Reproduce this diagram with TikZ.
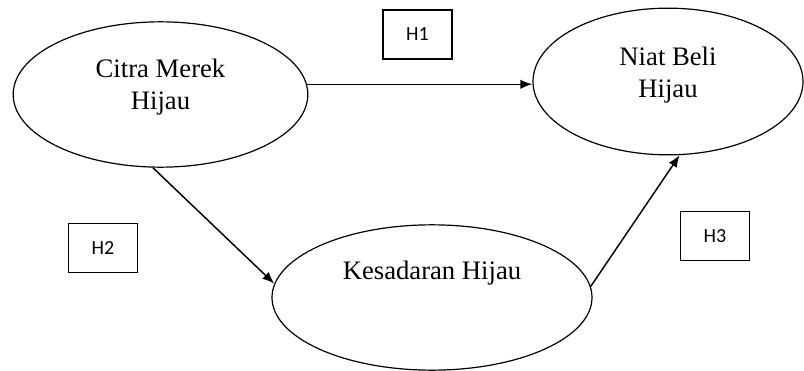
\documentclass[tikz,border=0pt]{standalone}
\usepackage{fontspec}
\newfontfamily\latfont{Liberation Serif}
\newfontfamily\hypfont{Carlito}
\usetikzlibrary{arrows.meta,shapes.geometric}

\begin{document}
\begin{tikzpicture}[->,>={Latex[length=9pt,width=7pt]},x=0.75pt,y=-0.75pt,line width=1.1pt,
  latent/.style={ellipse,draw,line width=0.9pt,inner sep=0pt},
  hyp/.style={draw,line width=0.9pt,minimum width=51.75pt,minimum height=36.75pt,font=\hypfont\fontsize{15}{18}\selectfont},
  lbl/.style={align=center,font=\latfont\fontsize{20}{24}\selectfont}]
\useasboundingbox (0,0) rectangle (804,371);

\node (cmh) [latent,minimum width=221pt,minimum height=109pt] at (160.5,94.5) {};
\node (nbh) [latent,minimum width=202.5pt,minimum height=110pt] at (668,81.5) {};
\node (kh) [latent,minimum width=240pt,minimum height=109pt] at (432,297.5) {};

\node (cmhtxt) [lbl] at (160.5,87) {Citra Merek\\Hijau};
\node (nbhtxt) [lbl] at (668,75) {Niat Beli\\Hijau};
\node (khtxt) [lbl] at (432,273) {Kesadaran Hijau};

\node (h1) [hyp] at (417.5,34.5) {H1};
\node (h2) [hyp] at (103,248) {H2};
\node (h3) [hyp] at (715,236) {H3};

\draw (cmh.4) -- (cmh.4 -| nbh.west);
\draw (cmh.-96) -- (kh.175);
\draw (kh.4) -- (nbh.-81);
\end{tikzpicture}
\end{document}
